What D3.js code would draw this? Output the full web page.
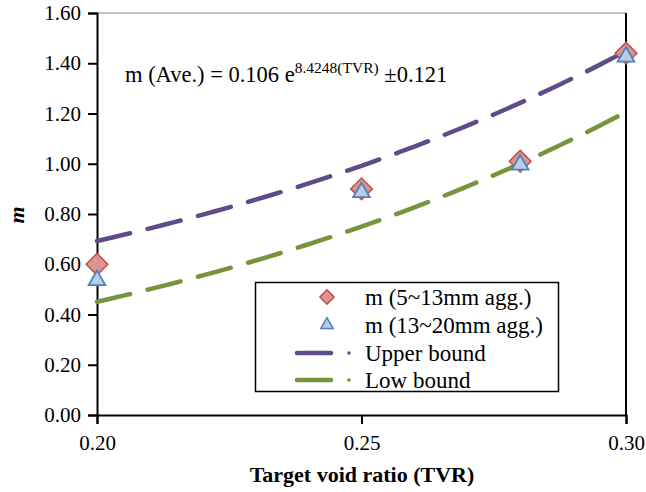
<!DOCTYPE html>
<html>
<head>
<meta charset="utf-8">
<script src="https://cdn.jsdelivr.net/npm/d3@7"></script>
<style>
  html, body { margin: 0; padding: 0; background: #fff; }
  svg { display: block; font-family: "Liberation Serif", "Times New Roman", serif; }
</style>
</head>
<body>
<svg id="chart" width="646" height="492"></svg>
<script>
// Measured m values for the two aggregate size ranges
const tvr = [0.20, 0.25, 0.28, 0.30];
const mSmallAgg = [0.60, 0.90, 1.01, 1.44];   // 5~13mm agg.
const mLargeAgg = [0.54, 0.89, 1.00, 1.43];   // 13~20mm agg.

// Fitted curve: m = a * exp(b * TVR) ± band
const fitA = 0.106;
const fitB = 8.4248;
const fitBand = 0.121;
const curveTVR = d3.range(0.20, 0.30001, 0.0025);

const xTicks = [0.20, 0.25, 0.30];
const yTicks = [0, 0.2, 0.4, 0.6, 0.8, 1.0, 1.2, 1.4, 1.6];

const svg = d3.select("#chart");
const plotL = 97, plotR = 626, plotT = 13, plotB = 415;

const x = d3.scaleLinear().domain([0.20, 0.30]).range([plotL, plotR]);
const y = d3.scaleLinear().domain([0, 1.6]).range([plotB, plotT]);

const purple = "#5f4a8b", green = "#77933c";
const diamondFill = "#d99694", diamondStroke = "#c0504d";
const triFill = "#b9cde5", triStroke = "#4f81bd";

// frame: top (thin grey) and right edge
svg.append("line").attr("x1", plotL).attr("x2", plotR).attr("y1", plotT).attr("y2", plotT)
  .attr("stroke", "#888").attr("stroke-width", 1);
svg.append("line").attr("x1", plotR).attr("x2", plotR).attr("y1", plotT).attr("y2", plotB)
  .attr("stroke", "#000").attr("stroke-width", 2);

// axes
const yAxis = svg.append("g").attr("transform", `translate(${plotL},0)`)
  .call(d3.axisLeft(y).tickValues(yTicks).tickFormat(d3.format(".2f")).tickSizeOuter(0).tickSize(9).tickPadding(7));
const xAxis = svg.append("g").attr("transform", `translate(0,${plotB})`)
  .call(d3.axisBottom(x).tickValues(xTicks).tickFormat(d3.format(".2f")).tickSizeOuter(0).tickSize(9).tickPadding(11));
[yAxis, xAxis].forEach(g => {
  g.select(".domain").attr("stroke", "#000").attr("stroke-width", 2);
  g.selectAll(".tick line").attr("stroke", "#000").attr("stroke-width", 2);
  g.selectAll(".tick text").attr("font-size", 21).attr("fill", "#000")
    .attr("font-family", "Liberation Serif, serif");
});

// fitted bounds
const line = d3.line().x(d => x(d[0])).y(d => y(d[1]));
const upper = curveTVR.map(t => [t, fitA * Math.exp(fitB * t) + fitBand]);
const lower = curveTVR.map(t => [t, fitA * Math.exp(fitB * t) - fitBand]);
[[upper, purple], [lower, green]].forEach(([pts, col]) => {
  svg.append("path").datum(pts).attr("d", line)
    .attr("fill", "none").attr("stroke", col).attr("stroke-width", 4.5)
    .attr("stroke-linecap", "round").attr("stroke-dasharray", "34,18");
});

// markers
const diamond = d3.symbol().type(d3.symbolDiamond2).size(300);
const triangle = d3.symbol().type(d3.symbolTriangle2).size(200);
svg.append("g").selectAll("path").data(tvr.map((t, i) => [t, mSmallAgg[i]])).join("path")
  .attr("d", diamond)
  .attr("transform", d => `translate(${x(d[0])},${y(d[1])})`)
  .attr("fill", diamondFill).attr("stroke", diamondStroke).attr("stroke-width", 1.5);
svg.append("g").selectAll("path").data(tvr.map((t, i) => [t, mLargeAgg[i]])).join("path")
  .attr("d", triangle)
  .attr("transform", d => `translate(${x(d[0])},${y(d[1]) + 1})`)
  .attr("fill", triFill).attr("stroke", triStroke).attr("stroke-width", 1.8);

// equation annotation
const eq = svg.append("text").attr("x", 125).attr("y", 82).attr("font-size", 22.5).attr("fill", "#000");
eq.append("tspan").text("m (Ave.) = 0.106 e");
eq.append("tspan").attr("dy", -9).attr("font-size", 15.5).text("8.4248(TVR)");
eq.append("tspan").attr("dy", 9).text(" ±0.121");

// legend
const lg = svg.append("g");
lg.append("rect").attr("x", 255.5).attr("y", 282.5).attr("width", 303).attr("height", 109)
  .attr("fill", "#fff").attr("stroke", "#000").attr("stroke-width", 1.5);
const rows = [
  { label: "m (5~13mm agg.)", kind: "diamond", y: 297 },
  { label: "m (13~20mm agg.)", kind: "triangle", y: 325 },
  { label: "Upper bound", kind: "line", color: purple, y: 353 },
  { label: "Low bound", kind: "line", color: green, y: 380 }
];
rows.forEach(r => {
  if (r.kind === "diamond") {
    lg.append("path").attr("d", d3.symbol().type(d3.symbolDiamond2).size(130))
      .attr("transform", `translate(327,${r.y})`)
      .attr("fill", diamondFill).attr("stroke", diamondStroke).attr("stroke-width", 1.5);
  } else if (r.kind === "triangle") {
    lg.append("path").attr("d", d3.symbol().type(d3.symbolTriangle2).size(110))
      .attr("transform", `translate(327,${r.y})`)
      .attr("fill", triFill).attr("stroke", triStroke).attr("stroke-width", 1.5);
  } else {
    lg.append("line").attr("x1", 297).attr("x2", 331).attr("y1", r.y).attr("y2", r.y)
      .attr("stroke", r.color).attr("stroke-width", 4.5).attr("stroke-linecap", "round");
    lg.append("circle").attr("cx", 349).attr("cy", r.y).attr("r", 1.8).attr("fill", r.color);
  }
  lg.append("text").attr("x", 365).attr("y", r.y + 8).attr("font-size", 23).attr("fill", "#000").text(r.label);
});

// axis titles
svg.append("text").attr("x", 362).attr("y", 482).attr("text-anchor", "middle")
  .attr("font-size", 22).attr("font-weight", "bold").attr("fill", "#000").text("Target void ratio (TVR)");
svg.append("text").attr("transform", "translate(24,215) rotate(-90)").attr("text-anchor", "middle")
  .attr("font-size", 22).attr("font-weight", "bold").attr("font-style", "italic").attr("fill", "#000").text("m");
</script>
</body>
</html>
